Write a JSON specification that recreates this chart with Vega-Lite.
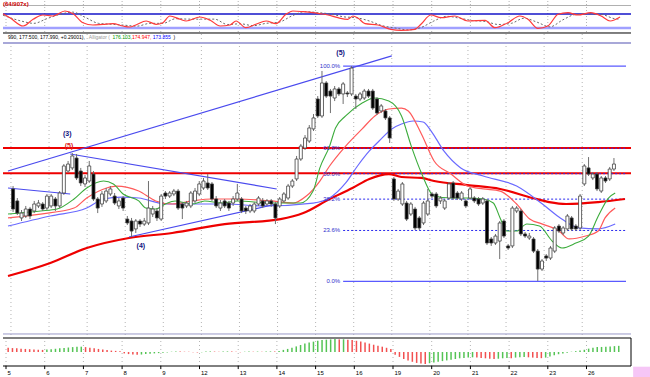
{
"$schema":"https://vega.github.io/schema/vega-lite/v6.json",
"padding":0,"background":"#ffffff","spacing":0,"bounds":"flush",
"resolve":{"scale":{"color":"independent"}},
"config":{"view":{"stroke":null},"font":"Liberation Sans","axis":{"labelFont":"Liberation Sans"}},
"datasets":{
"grid":[{"i":-0.5,"day":"5"},{"i":8.5,"day":"6"},{"i":17.5,"day":"7"},{"i":26.5,"day":"8"},{"i":35.5,"day":"9"},{"i":44.5,"day":"12"},{"i":53.5,"day":"13"},{"i":62.5,"day":"14"},{"i":71.5,"day":"15"},{"i":80.5,"day":"16"},{"i":89.5,"day":"19"},{"i":98.5,"day":"20"},{"i":107.5,"day":"21"},{"i":116.5,"day":"22"},{"i":125.5,"day":"23"},{"i":134.5,"day":"26"}],
"c":[
{"i":0,"o":176.43,"h":176.64,"l":174.78,"c":174.99},{"i":1,"o":175.57,"h":175.78,"l":174.56,"c":174.70},{"i":2,"o":174.35,"h":174.92,"l":174.13,"c":174.70},{"i":3,"o":174.49,"h":175.21,"l":174.35,"c":174.99},{"i":4,"o":174.99,"h":175.14,"l":174.27,"c":174.49},{"i":5,"o":174.85,"h":175.57,"l":174.70,"c":175.35},{"i":6,"o":175.21,"h":175.64,"l":175.06,"c":175.42},{"i":7,"o":175.35,"h":175.49,"l":174.85,"c":174.99},{"i":8,"o":175.06,"h":176.07,"l":174.92,"c":175.92},{"i":9,"o":175.21,"h":176.07,"l":175.06,"c":175.92},
{"i":10,"o":175.71,"h":175.85,"l":174.85,"c":175.21},{"i":11,"o":175.21,"h":176.28,"l":175.06,"c":176.14},{"i":12,"o":176.14,"h":178.22,"l":176.00,"c":178.08},{"i":13,"o":177.72,"h":178.44,"l":177.58,"c":178.22},{"i":14,"o":177.94,"h":179.01,"l":177.79,"c":178.80},{"i":15,"o":178.65,"h":178.94,"l":177.07,"c":177.22},{"i":16,"o":177.72,"h":177.94,"l":176.64,"c":176.86},{"i":17,"o":176.79,"h":177.43,"l":176.57,"c":177.22},{"i":18,"o":177.00,"h":178.44,"l":176.86,"c":178.08},{"i":19,"o":177.50,"h":177.72,"l":175.57,"c":175.71},
{"i":20,"o":175.71,"h":175.85,"l":174.70,"c":175.06},{"i":21,"o":175.35,"h":176.28,"l":175.14,"c":176.07},{"i":22,"o":175.57,"h":176.50,"l":175.42,"c":176.28},{"i":23,"o":176.07,"h":176.64,"l":175.92,"c":176.43},{"i":24,"o":175.92,"h":176.14,"l":175.28,"c":175.42},{"i":25,"o":175.21,"h":175.78,"l":174.99,"c":175.57},{"i":26,"o":175.78,"h":175.92,"l":174.85,"c":175.06},{"i":27,"o":174.27,"h":174.49,"l":173.84,"c":173.99},{"i":28,"o":174.13,"h":174.35,"l":172.98,"c":173.41},{"i":29,"o":173.56,"h":174.27,"l":173.27,"c":174.13},
{"i":30,"o":174.13,"h":174.27,"l":173.70,"c":173.91},{"i":31,"o":173.91,"h":174.35,"l":173.77,"c":174.13},{"i":32,"o":173.99,"h":177.00,"l":173.84,"c":175.06},{"i":33,"o":174.63,"h":175.21,"l":174.42,"c":174.99},{"i":34,"o":174.85,"h":175.06,"l":174.13,"c":174.35},{"i":35,"o":174.27,"h":176.07,"l":174.13,"c":175.92},{"i":36,"o":176.14,"h":176.28,"l":175.71,"c":175.92},{"i":37,"o":175.92,"h":176.28,"l":175.78,"c":176.14},{"i":38,"o":176.07,"h":176.43,"l":175.92,"c":176.28},{"i":39,"o":176.28,"h":176.43,"l":174.92,"c":175.06},
{"i":40,"o":175.35,"h":175.49,"l":174.27,"c":175.06},{"i":41,"o":175.21,"h":175.57,"l":175.06,"c":175.42},{"i":42,"o":175.21,"h":176.28,"l":175.06,"c":176.14},{"i":43,"o":175.57,"h":176.50,"l":175.42,"c":176.28},{"i":44,"o":176.07,"h":177.00,"l":175.92,"c":176.79},{"i":45,"o":176.50,"h":177.22,"l":176.36,"c":177.00},{"i":46,"o":176.86,"h":177.50,"l":176.36,"c":176.50},{"i":47,"o":176.79,"h":176.93,"l":175.57,"c":175.71},{"i":48,"o":175.71,"h":175.92,"l":175.06,"c":175.21},{"i":49,"o":175.06,"h":175.64,"l":174.85,"c":175.42},
{"i":50,"o":175.57,"h":175.71,"l":175.06,"c":175.21},{"i":51,"o":175.42,"h":175.57,"l":174.85,"c":175.06},{"i":52,"o":175.42,"h":175.92,"l":175.21,"c":175.71},{"i":53,"o":175.71,"h":176.79,"l":175.57,"c":176.14},{"i":54,"o":175.71,"h":175.85,"l":174.70,"c":174.85},{"i":55,"o":175.06,"h":175.21,"l":174.63,"c":174.85},{"i":56,"o":174.85,"h":175.35,"l":174.70,"c":175.21},{"i":57,"o":174.85,"h":175.49,"l":174.70,"c":175.35},{"i":58,"o":175.35,"h":175.92,"l":175.21,"c":175.78},{"i":59,"o":175.57,"h":175.78,"l":175.06,"c":175.21},
{"i":60,"o":175.35,"h":175.71,"l":175.21,"c":175.57},{"i":61,"o":175.57,"h":175.71,"l":175.14,"c":175.35},{"i":62,"o":175.35,"h":175.49,"l":173.91,"c":174.35},{"i":63,"o":175.21,"h":175.85,"l":175.06,"c":175.71},{"i":64,"o":175.57,"h":176.21,"l":175.42,"c":176.07},{"i":65,"o":175.78,"h":176.79,"l":175.64,"c":176.64},{"i":66,"o":176.64,"h":177.15,"l":176.50,"c":177.00},{"i":67,"o":177.15,"h":178.80,"l":177.00,"c":178.58},{"i":68,"o":178.58,"h":179.66,"l":178.44,"c":179.51},{"i":69,"o":179.37,"h":180.30,"l":179.23,"c":180.09},
{"i":70,"o":179.87,"h":181.02,"l":179.73,"c":180.81},{"i":71,"o":180.74,"h":181.81,"l":180.59,"c":181.53},{"i":72,"o":182.89,"h":183.10,"l":181.53,"c":181.67},{"i":73,"o":181.67,"h":184.90,"l":181.53,"c":184.04},{"i":74,"o":184.04,"h":184.18,"l":182.96,"c":183.10},{"i":75,"o":183.46,"h":183.61,"l":181.88,"c":183.10},{"i":76,"o":182.96,"h":183.82,"l":182.74,"c":183.61},{"i":77,"o":183.61,"h":183.75,"l":183.10,"c":183.25},{"i":78,"o":183.25,"h":184.11,"l":182.53,"c":183.97},{"i":79,"o":183.32,"h":183.46,"l":183.03,"c":183.25},
{"i":80,"o":183.25,"h":185.26,"l":183.10,"c":185.11},{"i":81,"o":183.10,"h":183.25,"l":182.17,"c":182.89},{"i":82,"o":182.89,"h":183.39,"l":182.74,"c":183.25},{"i":83,"o":182.96,"h":183.61,"l":182.82,"c":183.46},{"i":84,"o":183.46,"h":183.61,"l":182.96,"c":183.10},{"i":85,"o":183.46,"h":183.61,"l":182.10,"c":182.24},{"i":86,"o":182.89,"h":183.03,"l":181.74,"c":181.88},{"i":87,"o":182.03,"h":182.53,"l":181.88,"c":182.39},{"i":88,"o":182.03,"h":182.17,"l":181.38,"c":181.53},{"i":89,"o":181.53,"h":181.67,"l":179.73,"c":180.09},
{"i":90,"o":177.15,"h":177.29,"l":175.57,"c":175.71},{"i":91,"o":175.71,"h":176.43,"l":175.57,"c":176.28},{"i":92,"o":175.35,"h":176.93,"l":175.21,"c":176.79},{"i":93,"o":175.42,"h":175.57,"l":174.13,"c":174.27},{"i":94,"o":174.63,"h":175.49,"l":174.49,"c":175.35},{"i":95,"o":174.99,"h":175.14,"l":173.48,"c":173.63},{"i":96,"o":174.35,"h":174.49,"l":173.48,"c":173.63},{"i":97,"o":173.99,"h":175.57,"l":173.84,"c":175.42},{"i":98,"o":174.63,"h":176.43,"l":174.49,"c":175.57},{"i":99,"o":176.07,"h":176.21,"l":175.78,"c":175.92},
{"i":100,"o":176.07,"h":176.21,"l":175.06,"c":175.21},{"i":101,"o":175.57,"h":175.92,"l":175.35,"c":175.78},{"i":102,"o":175.06,"h":175.71,"l":174.92,"c":175.57},{"i":103,"o":175.78,"h":176.93,"l":175.64,"c":176.79},{"i":104,"o":176.86,"h":177.00,"l":175.64,"c":175.78},{"i":105,"o":176.14,"h":176.28,"l":175.64,"c":175.78},{"i":106,"o":175.71,"h":176.28,"l":175.57,"c":176.14},{"i":107,"o":175.57,"h":175.71,"l":175.06,"c":175.21},{"i":108,"o":175.78,"h":176.57,"l":175.64,"c":176.43},{"i":109,"o":175.78,"h":175.92,"l":175.42,"c":175.57},
{"i":110,"o":175.71,"h":175.85,"l":175.21,"c":175.35},{"i":111,"o":175.42,"h":175.85,"l":175.28,"c":175.71},{"i":112,"o":175.57,"h":175.71,"l":172.41,"c":172.55},{"i":113,"o":172.84,"h":172.98,"l":172.34,"c":172.55},{"i":114,"o":172.55,"h":173.20,"l":172.41,"c":173.05},{"i":115,"o":172.69,"h":174.13,"l":171.40,"c":173.99},{"i":116,"o":174.13,"h":174.27,"l":172.91,"c":173.05},{"i":117,"o":172.34,"h":172.48,"l":172.05,"c":172.19},{"i":118,"o":172.34,"h":175.21,"l":172.19,"c":175.06},{"i":119,"o":174.85,"h":175.21,"l":174.70,"c":175.06},
{"i":120,"o":174.85,"h":174.99,"l":173.05,"c":173.20},{"i":121,"o":173.20,"h":173.34,"l":172.91,"c":173.05},{"i":122,"o":172.91,"h":173.27,"l":172.77,"c":173.05},{"i":123,"o":172.84,"h":172.98,"l":171.83,"c":171.97},{"i":124,"o":171.97,"h":172.12,"l":169.82,"c":170.68},{"i":125,"o":170.68,"h":171.40,"l":170.54,"c":171.26},{"i":126,"o":171.62,"h":171.76,"l":171.26,"c":171.47},{"i":127,"o":171.47,"h":172.34,"l":171.33,"c":172.19},{"i":128,"o":171.97,"h":173.77,"l":171.83,"c":173.63},{"i":129,"o":173.77,"h":173.91,"l":173.27,"c":173.41},
{"i":130,"o":173.27,"h":173.77,"l":173.12,"c":173.63},{"i":131,"o":173.56,"h":174.63,"l":173.41,"c":174.49},{"i":132,"o":174.35,"h":174.49,"l":173.41,"c":173.56},{"i":133,"o":173.77,"h":173.91,"l":173.41,"c":173.56},{"i":134,"o":173.63,"h":176.07,"l":173.48,"c":175.92},{"i":135,"o":176.79,"h":178.22,"l":176.64,"c":178.08},{"i":136,"o":177.94,"h":178.72,"l":177.36,"c":177.50},{"i":137,"o":177.22,"h":177.65,"l":177.07,"c":177.50},{"i":138,"o":177.50,"h":177.65,"l":176.28,"c":176.43},{"i":139,"o":176.28,"h":177.36,"l":176.14,"c":177.22},
{"i":140,"o":177.22,"h":177.36,"l":176.86,"c":177.00},{"i":141,"o":177.15,"h":178.01,"l":177.00,"c":177.86},{"i":142,"o":177.86,"h":178.65,"l":177.72,"c":178.22}],
"ma":[{"i":-1.2,"v":170.18},{"i":8.8,"v":171.12},{"i":17.4,"v":172.19},{"i":27.4,"v":172.91},{"i":37.6,"v":173.27},{"i":50,"v":173.91},{"i":63.2,"v":174.27},{"i":68.6,"v":174.70},{"i":74.8,"v":175.71},{"i":80.2,"v":176.50},{"i":84.2,"v":177.15},{"i":88.8,"v":177.50},{"i":91.8,"v":177.29},{"i":96.5,"v":177.22},{"i":99.5,"v":177.00},{"i":107.4,"v":176.71},{"i":115.1,"v":176.43},{"i":122.8,"v":175.78},{"i":126.7,"v":175.49},{"i":130.7,"v":175.35},{"i":138.3,"v":175.49},{"i":144.6,"v":175.71}],
"jaw":[{"i":-1.2,"v":173.77},{"i":8.8,"v":174.49},{"i":17.4,"v":175.06},{"i":21.4,"v":175.71},{"i":25.6,"v":175.85},{"i":29.7,"v":175.78},{"i":36,"v":175.35},{"i":43,"v":175.35},{"i":50,"v":175.35},{"i":59.3,"v":175.21},{"i":70.9,"v":175.42},{"i":74.8,"v":175.78},{"i":78.6,"v":176.86},{"i":81.4,"v":178.08},{"i":84.2,"v":179.16},{"i":86.5,"v":179.87},{"i":89.5,"v":180.74},{"i":91.8,"v":181.09},{"i":94.6,"v":181.31},{"i":96.9,"v":181.24},{"i":98.8,"v":180.59},{"i":101.8,"v":179.16},{"i":105.8,"v":177.94},{"i":111.1,"v":177.36},{"i":119,"v":176.64},{"i":125.1,"v":175.35},{"i":129,"v":174.42},{"i":133.7,"v":173.63},{"i":138.3,"v":173.56},{"i":142.3,"v":173.91}],
"teeth":[{"i":-1.2,"v":174.35},{"i":6.5,"v":174.63},{"i":14.4,"v":175.06},{"i":17.4,"v":175.78},{"i":22.1,"v":176.50},{"i":24.4,"v":176.64},{"i":29.7,"v":176.28},{"i":33.7,"v":175.57},{"i":37.6,"v":175.35},{"i":42.3,"v":175.57},{"i":46.9,"v":175.71},{"i":53,"v":175.71},{"i":60.9,"v":175.57},{"i":66.2,"v":175.42},{"i":69.3,"v":175.92},{"i":72.5,"v":177.00},{"i":74.8,"v":178.08},{"i":78.6,"v":179.51},{"i":82.5,"v":180.74},{"i":85.5,"v":181.67},{"i":88.8,"v":182.17},{"i":91.8,"v":182.24},{"i":93.4,"v":182.03},{"i":96.5,"v":180.38},{"i":99.5,"v":178.44},{"i":103.5,"v":177.50},{"i":107.4,"v":176.64},{"i":111.1,"v":176.43},{"i":115.1,"v":176.28},{"i":119,"v":175.35},{"i":122.1,"v":174.27},{"i":125.1,"v":173.91},{"i":129,"v":173.41},{"i":131.4,"v":172.84},{"i":135.3,"v":173.05},{"i":138.3,"v":173.41},{"i":139.9,"v":174.35},{"i":142.3,"v":175.06}],
"lips":[{"i":-1.2,"v":174.63},{"i":6.5,"v":174.85},{"i":10.4,"v":174.99},{"i":14.4,"v":175.71},{"i":17.4,"v":176.50},{"i":21.4,"v":177.00},{"i":23.7,"v":176.79},{"i":26,"v":176.07},{"i":29.7,"v":175.57},{"i":31.4,"v":175.06},{"i":33.7,"v":174.99},{"i":36,"v":175.35},{"i":38.3,"v":175.57},{"i":42.3,"v":175.35},{"i":45.3,"v":175.57},{"i":49.3,"v":175.42},{"i":53,"v":175.57},{"i":60.9,"v":175.42},{"i":67.9,"v":175.42},{"i":70.9,"v":176.28},{"i":72.5,"v":177.94},{"i":74.8,"v":179.51},{"i":76.2,"v":180.81},{"i":78.6,"v":181.67},{"i":82.5,"v":182.60},{"i":85.5,"v":182.96},{"i":88.8,"v":182.74},{"i":91.8,"v":181.67},{"i":94.1,"v":179.51},{"i":96.5,"v":177.58},{"i":99.5,"v":175.92},{"i":103.5,"v":175.78},{"i":107.4,"v":175.78},{"i":111.1,"v":175.71},{"i":113.5,"v":175.42},{"i":115.1,"v":174.35},{"i":116.7,"v":173.41},{"i":119,"v":173.41},{"i":121.4,"v":173.91},{"i":124.4,"v":173.77},{"i":127.4,"v":172.69},{"i":129.7,"v":172.19},{"i":133,"v":172.55},{"i":136,"v":173.05},{"i":138.3,"v":174.49},{"i":140.7,"v":175.78},{"i":142.3,"v":176.14}],
"tl":[{"s":1,"i":-1.2,"v":177.72},{"s":1,"i":89.5,"v":185.98},{"s":2,"i":13.5,"v":178.94},{"s":2,"i":62.3,"v":176.43},{"s":3,"i":-1.2,"v":176.50},{"s":3,"i":13.5,"v":176.07},{"s":4,"i":27.4,"v":172.98},{"s":4,"i":62.3,"v":175.35}],
"fib":[{"p":"100.0%","v":185.25,"k":"s"},{"p":"61.8%","v":179.35,"k":"d"},{"p":"50.0%","v":177.525,"k":"d"},{"p":"38.2%","v":175.70,"k":"d"},{"p":"23.6%","v":173.45,"k":"d"},{"p":"0.0%","v":169.80,"k":"s"}],
"hdr":[{"i":-1.2,"t":"990, 177.500, 177.990, +0.29001),","g":"k"},{"i":17.9,"t":"Alligator (","g":"a"},{"i":23.5,"t":"176.103,","g":"l"},{"i":28.1,"t":"174.947,","g":"t"},{"i":33.0,"t":"173.855","g":"j"},{"i":37.9,"t":")","g":"k"}],
"wl":[{"i":12.8,"v":180.37,"t":"(3)","g":"n"},{"i":13.2,"v":179.55,"t":"(5)","g":"r"},{"i":30.2,"v":172.34,"t":"(4)","g":"n"},{"i":77.4,"v":186.19,"t":"(5)","g":"n"}],
"sk":[{"i":-1.2,"v":81.3},{"i":0.4,"v":64.1},{"i":3.5,"v":28.6},{"i":5.8,"v":57.3},{"i":8.1,"v":75.7},{"i":10.4,"v":71.4},{"i":13.2,"v":92.9},{"i":15.1,"v":81.3},{"i":17.4,"v":42.7},{"i":19.7,"v":32.9},{"i":22.1,"v":35.9},{"i":24.4,"v":38.4},{"i":26.7,"v":28.6},{"i":28.3,"v":24.3},{"i":29.7,"v":32.9},{"i":32.1,"v":50},{"i":34.4,"v":35.9},{"i":36,"v":42.7},{"i":37.6,"v":71.4},{"i":40,"v":57.3},{"i":41.4,"v":50},{"i":44.6,"v":67.1},{"i":47,"v":53},{"i":49.3,"v":28.6},{"i":51.6,"v":32.9},{"i":53,"v":50},{"i":55.3,"v":21.3},{"i":57.6,"v":35.9},{"i":60,"v":50},{"i":62.3,"v":38.4},{"i":64.6,"v":78.7},{"i":66.2,"v":92.9},{"i":68.6,"v":89.9},{"i":70.9,"v":85.6},{"i":72.5,"v":81.3},{"i":74.4,"v":75.7},{"i":76.7,"v":64.1},{"i":79,"v":57.3},{"i":80.2,"v":71.4},{"i":81.4,"v":61.6},{"i":83,"v":38.4},{"i":86,"v":32.9},{"i":89,"v":14.4},{"i":91.4,"v":10.1},{"i":94.6,"v":14.4},{"i":96,"v":35.9},{"i":98.3,"v":75.7},{"i":100.7,"v":64.1},{"i":103.9,"v":71.4},{"i":106.9,"v":50},{"i":110.9,"v":53},{"i":113.2,"v":21.3},{"i":116.2,"v":42.7},{"i":119,"v":71.4},{"i":120.9,"v":57.3},{"i":123.2,"v":18.7},{"i":125.5,"v":28.6},{"i":127.9,"v":78.7},{"i":130.2,"v":85.6},{"i":132.5,"v":75.7},{"i":135.5,"v":85.6},{"i":137.9,"v":71.4},{"i":140,"v":50},{"i":142.3,"v":67.1}],
"sd":[{"i":-1.2,"v":75},{"i":3,"v":50},{"i":6,"v":40},{"i":9,"v":60},{"i":12,"v":78},{"i":15,"v":88},{"i":18,"v":65},{"i":21,"v":40},{"i":24,"v":36},{"i":27,"v":32},{"i":30,"v":28},{"i":33,"v":40},{"i":36,"v":40},{"i":39,"v":60},{"i":42,"v":58},{"i":45,"v":58},{"i":48,"v":58},{"i":51,"v":35},{"i":54,"v":38},{"i":57,"v":30},{"i":60,"v":40},{"i":63,"v":45},{"i":66,"v":72},{"i":69,"v":90},{"i":72,"v":86},{"i":75,"v":80},{"i":78,"v":68},{"i":81,"v":64},{"i":84,"v":50},{"i":87,"v":30},{"i":90,"v":20},{"i":93,"v":12},{"i":96,"v":22},{"i":99,"v":50},{"i":102,"v":70},{"i":105,"v":62},{"i":108,"v":52},{"i":111,"v":48},{"i":114,"v":35},{"i":117,"v":40},{"i":120,"v":62},{"i":123,"v":45},{"i":126,"v":25},{"i":129,"v":55},{"i":132,"v":78},{"i":135,"v":80},{"i":138,"v":78},{"i":141,"v":60},{"i":142.3,"v":58}],
"h":[
{"i":0,"m":0.30,"d":"d"},{"i":1,"m":0.28,"d":"d"},{"i":2,"m":0.26,"d":"d"},{"i":3,"m":0.24,"d":"d"},{"i":4,"m":0.22,"d":"d"},{"i":5,"m":0.20,"d":"d"},{"i":6,"m":0.18,"d":"d"},{"i":7,"m":0.16,"d":"d"},{"i":8,"m":0.15,"d":"d"},{"i":9,"m":0.17,"d":"u"},
{"i":10,"m":0.20,"d":"u"},{"i":11,"m":0.23,"d":"u"},{"i":12,"m":0.26,"d":"u"},{"i":13,"m":0.29,"d":"u"},{"i":14,"m":0.32,"d":"u"},{"i":15,"m":0.35,"d":"u"},{"i":16,"m":0.37,"d":"u"},{"i":17,"m":0.38,"d":"u"},{"i":18,"m":0.35,"d":"d"},{"i":19,"m":0.30,"d":"d"},
{"i":20,"m":0.26,"d":"d"},{"i":21,"m":0.22,"d":"d"},{"i":22,"m":0.18,"d":"d"},{"i":23,"m":0.14,"d":"d"},{"i":24,"m":0.10,"d":"d"},{"i":25,"m":0.08,"d":"d"},{"i":26,"m":0.06,"d":"d"},{"i":27,"m":-0.10,"d":"d"},{"i":28,"m":-0.15,"d":"d"},{"i":29,"m":-0.18,"d":"d"},
{"i":30,"m":-0.20,"d":"d"},{"i":31,"m":-0.18,"d":"u"},{"i":32,"m":-0.15,"d":"u"},{"i":33,"m":-0.12,"d":"u"},{"i":34,"m":-0.10,"d":"u"},{"i":35,"m":-0.08,"d":"u"},{"i":36,"m":-0.05,"d":"u"},{"i":37,"m":-0.03,"d":"u"},{"i":38,"m":0.02,"d":"u"},{"i":39,"m":0.04,"d":"u"},
{"i":40,"m":0.03,"d":"d"},{"i":41,"m":0.02,"d":"d"},{"i":42,"m":0.01,"d":"d"},{"i":43,"m":-0.02,"d":"d"},{"i":44,"m":-0.03,"d":"d"},{"i":45,"m":-0.02,"d":"u"},{"i":46,"m":0.03,"d":"u"},{"i":47,"m":0.04,"d":"u"},{"i":48,"m":0.03,"d":"d"},{"i":49,"m":0.02,"d":"d"},
{"i":50,"m":0.03,"d":"u"},{"i":51,"m":0.04,"d":"u"},{"i":52,"m":0.03,"d":"d"},{"i":53,"m":0.02,"d":"d"},{"i":54,"m":-0.02,"d":"d"},{"i":55,"m":0.02,"d":"u"},{"i":56,"m":0.03,"d":"u"},{"i":57,"m":0.02,"d":"d"},{"i":58,"m":0.03,"d":"u"},{"i":59,"m":0.02,"d":"d"},
{"i":60,"m":0.03,"d":"u"},{"i":61,"m":0.04,"d":"u"},{"i":62,"m":0.03,"d":"d"},{"i":63,"m":0.08,"d":"u"},{"i":64,"m":0.15,"d":"u"},{"i":65,"m":0.22,"d":"u"},{"i":66,"m":0.30,"d":"u"},{"i":67,"m":0.40,"d":"u"},{"i":68,"m":0.50,"d":"u"},{"i":69,"m":0.60,"d":"u"},
{"i":70,"m":0.68,"d":"u"},{"i":71,"m":0.74,"d":"u"},{"i":72,"m":0.80,"d":"u"},{"i":73,"m":0.85,"d":"u"},{"i":74,"m":0.88,"d":"u"},{"i":75,"m":0.90,"d":"u"},{"i":76,"m":0.92,"d":"u"},{"i":77,"m":0.90,"d":"d"},{"i":78,"m":0.91,"d":"u"},{"i":79,"m":0.88,"d":"d"},
{"i":80,"m":0.85,"d":"d"},{"i":81,"m":0.80,"d":"d"},{"i":82,"m":0.75,"d":"d"},{"i":83,"m":0.68,"d":"d"},{"i":84,"m":0.60,"d":"d"},{"i":85,"m":0.52,"d":"d"},{"i":86,"m":0.45,"d":"d"},{"i":87,"m":0.38,"d":"d"},{"i":88,"m":0.30,"d":"d"},{"i":89,"m":0.22,"d":"d"},
{"i":90,"m":-0.20,"d":"d"},{"i":91,"m":-0.35,"d":"d"},{"i":92,"m":-0.50,"d":"d"},{"i":93,"m":-0.60,"d":"d"},{"i":94,"m":-0.70,"d":"d"},{"i":95,"m":-0.78,"d":"d"},{"i":96,"m":-0.82,"d":"d"},{"i":97,"m":-0.85,"d":"d"},{"i":98,"m":-0.80,"d":"u"},{"i":99,"m":-0.75,"d":"u"},
{"i":100,"m":-0.70,"d":"u"},{"i":101,"m":-0.65,"d":"u"},{"i":102,"m":-0.60,"d":"u"},{"i":103,"m":-0.55,"d":"u"},{"i":104,"m":-0.50,"d":"u"},{"i":105,"m":-0.45,"d":"u"},{"i":106,"m":-0.42,"d":"u"},{"i":107,"m":-0.40,"d":"u"},{"i":108,"m":-0.38,"d":"u"},{"i":109,"m":-0.40,"d":"d"},
{"i":110,"m":-0.42,"d":"d"},{"i":111,"m":-0.45,"d":"d"},{"i":112,"m":-0.48,"d":"d"},{"i":113,"m":-0.50,"d":"d"},{"i":114,"m":-0.48,"d":"u"},{"i":115,"m":-0.45,"d":"u"},{"i":116,"m":-0.42,"d":"u"},{"i":117,"m":-0.44,"d":"d"},{"i":118,"m":-0.40,"d":"u"},{"i":119,"m":-0.38,"d":"u"},
{"i":120,"m":-0.36,"d":"u"},{"i":121,"m":-0.38,"d":"d"},{"i":122,"m":-0.40,"d":"d"},{"i":123,"m":-0.42,"d":"d"},{"i":124,"m":-0.44,"d":"d"},{"i":125,"m":-0.40,"d":"u"},{"i":126,"m":-0.32,"d":"u"},{"i":127,"m":-0.24,"d":"u"},{"i":128,"m":-0.16,"d":"u"},{"i":129,"m":-0.10,"d":"u"},
{"i":130,"m":-0.05,"d":"u"},{"i":131,"m":0.02,"d":"u"},{"i":132,"m":0.06,"d":"u"},{"i":133,"m":0.10,"d":"u"},{"i":134,"m":0.16,"d":"u"},{"i":135,"m":0.24,"d":"u"},{"i":136,"m":0.30,"d":"u"},{"i":137,"m":0.35,"d":"u"},{"i":138,"m":0.36,"d":"u"},{"i":139,"m":0.38,"d":"u"},
{"i":140,"m":0.40,"d":"u"},{"i":141,"m":0.42,"d":"u"},{"i":142,"m":0.44,"d":"u"}]
},
"vconcat":[
{"width":628,"height":33,
"layer":[
{"data":{"name":"grid"},"mark":{"type":"rule","color":"#b4b4b4","strokeDash":[1,2],"strokeWidth":1},"encoding":{"x":{"field":"i","type":"quantitative","scale":{"domain":[-1.2,144.85],"nice":false,"zero":false},"axis":null}}},
{"data":{"values":[{"v":80}]},"mark":{"type":"rule","color":"#1414c8","strokeWidth":1.5},"encoding":{"y":{"field":"v","type":"quantitative","scale":{"domain":[-5.72,135.71],"nice":false,"zero":false},"axis":{"orient":"right","values":[50],"labelFontSize":6,"tickSize":3,"labelPadding":2,"domainColor":"#000","tickColor":"#000","labelColor":"#000","title":null,"grid":false}}}},
{"data":{"values":[{"v":20}]},"mark":{"type":"rule","color":"#a0a0ff","strokeWidth":2.5},"encoding":{"y":{"field":"v","type":"quantitative","scale":{"domain":[-5.72,135.71],"nice":false,"zero":false},"axis":null}}},
{"data":{"values":[{"v":116.4}]},"mark":{"type":"rule","color":"#b0b0b0","strokeWidth":1},"encoding":{"y":{"field":"v","type":"quantitative","scale":{"domain":[-5.72,135.71],"nice":false,"zero":false},"axis":null}}},
{"data":{"values":[{"v":-1.43}]},"mark":{"type":"rule","color":"#000000","strokeWidth":1},"encoding":{"y":{"field":"v","type":"quantitative","scale":{"domain":[-5.72,135.71],"nice":false,"zero":false},"axis":null}}},
{"data":{"name":"sd"},"mark":{"type":"line","color":"#6a6a6a","strokeDash":[2,2],"strokeWidth":1,"interpolate":"monotone"},"encoding":{"x":{"field":"i","type":"quantitative","scale":{"domain":[-1.2,144.85],"nice":false,"zero":false},"axis":null},"y":{"field":"v","type":"quantitative","scale":{"domain":[-5.72,135.71],"nice":false,"zero":false},"axis":null}}},
{"data":{"name":"sk"},"mark":{"type":"line","color":"#ff3a3a","strokeWidth":1.2,"interpolate":"monotone"},"encoding":{"x":{"field":"i","type":"quantitative","scale":{"domain":[-1.2,144.85],"nice":false,"zero":false},"axis":null},"y":{"field":"v","type":"quantitative","scale":{"domain":[-5.72,135.71],"nice":false,"zero":false},"axis":null}}},
{"data":{"values":[{"i":-1.2,"v":123,"t":"(64/907x)"}]},"mark":{"type":"text","align":"left","baseline":"middle","color":"#cc0000","fontSize":6,"fontWeight":"bold"},"encoding":{"x":{"field":"i","type":"quantitative","scale":{"domain":[-1.2,144.85],"nice":false,"zero":false},"axis":null},"y":{"field":"v","type":"quantitative","scale":{"domain":[-5.72,135.71],"nice":false,"zero":false},"axis":null},"text":{"field":"t"}}}
]},
{"width":628,"height":304,"resolve":{"scale":{"color":"independent"}},
"layer":[
{"data":{"name":"grid"},"mark":{"type":"rule","color":"#b4b4b4","strokeDash":[1,3],"strokeWidth":1},"encoding":{"x":{"field":"i","type":"quantitative","scale":{"domain":[-1.2,144.85],"nice":false,"zero":false},"axis":null}}},
{"data":{"values":[{"v":186.91}]},"mark":{"type":"rule","color":"#a8a8d8","strokeWidth":2},"encoding":{"y":{"field":"v","type":"quantitative","scale":{"domain":[165.731,187.555],"nice":false,"zero":false},"axis":{"orient":"right","values":[167,167.5,168,168.5,169,169.5,170,170.5,171,171.5,172,172.5,173,173.5,174,174.5,175,175.5,176,176.5,177,177.5,178,178.5,179,179.5,180,180.5,181,181.5,182,182.5,183,183.5,184,184.5,185,185.5,186,186.5],"format":".1f","labelFontSize":6,"tickSize":3,"labelPadding":2,"domainColor":"#000","tickColor":"#000","labelColor":"#000","title":null,"grid":false,"labelOverlap":false}}}},
{"data":{"values":[{"v":166.02}]},"mark":{"type":"rule","color":"#9a9ac8","strokeWidth":1},"encoding":{"y":{"field":"v","type":"quantitative","scale":{"domain":[165.731,187.555],"nice":false,"zero":false},"axis":null}}},
{"data":{"values":[{"v":179.37},{"v":177.55}]},"mark":{"type":"rule","color":"#ee0000","strokeWidth":2},"encoding":{"y":{"field":"v","type":"quantitative","scale":{"domain":[165.731,187.555],"nice":false,"zero":false},"axis":null}}},
{"data":{"name":"fib"},"transform":[{"filter":"datum.k == 's'"}],"mark":{"type":"rule","color":"#5a5aff","strokeWidth":1.3},"encoding":{"x":{"datum":78,"type":"quantitative","scale":{"domain":[-1.2,144.85],"nice":false,"zero":false},"axis":null},"x2":{"datum":144.85},"y":{"field":"v","type":"quantitative","scale":{"domain":[165.731,187.555],"nice":false,"zero":false},"axis":null}}},
{"data":{"name":"fib"},"transform":[{"filter":"datum.k == 'd'"}],"mark":{"type":"rule","color":"#2a2aee","strokeWidth":1,"strokeDash":[2,2]},"encoding":{"x":{"datum":78,"type":"quantitative","scale":{"domain":[-1.2,144.85],"nice":false,"zero":false},"axis":null},"x2":{"datum":144.85},"y":{"field":"v","type":"quantitative","scale":{"domain":[165.731,187.555],"nice":false,"zero":false},"axis":null}}},
{"data":{"name":"ma"},"mark":{"type":"line","color":"#ee0000","strokeWidth":2.2,"interpolate":"monotone"},"encoding":{"x":{"field":"i","type":"quantitative","scale":{"domain":[-1.2,144.85],"nice":false,"zero":false},"axis":null},"y":{"field":"v","type":"quantitative","scale":{"domain":[165.731,187.555],"nice":false,"zero":false},"axis":null}}},
{"data":{"name":"jaw"},"mark":{"type":"line","color":"#6a6aff","strokeWidth":1.2,"interpolate":"monotone"},"encoding":{"x":{"field":"i","type":"quantitative","scale":{"domain":[-1.2,144.85],"nice":false,"zero":false},"axis":null},"y":{"field":"v","type":"quantitative","scale":{"domain":[165.731,187.555],"nice":false,"zero":false},"axis":null}}},
{"data":{"name":"teeth"},"mark":{"type":"line","color":"#ff5a5a","strokeWidth":1.2,"interpolate":"monotone"},"encoding":{"x":{"field":"i","type":"quantitative","scale":{"domain":[-1.2,144.85],"nice":false,"zero":false},"axis":null},"y":{"field":"v","type":"quantitative","scale":{"domain":[165.731,187.555],"nice":false,"zero":false},"axis":null}}},
{"data":{"name":"lips"},"mark":{"type":"line","color":"#3cac3c","strokeWidth":1.1,"interpolate":"monotone"},"encoding":{"x":{"field":"i","type":"quantitative","scale":{"domain":[-1.2,144.85],"nice":false,"zero":false},"axis":null},"y":{"field":"v","type":"quantitative","scale":{"domain":[165.731,187.555],"nice":false,"zero":false},"axis":null}}},
{"data":{"name":"tl"},"mark":{"type":"line","color":"#4a4aee","strokeWidth":1.2},"encoding":{"x":{"field":"i","type":"quantitative","scale":{"domain":[-1.2,144.85],"nice":false,"zero":false},"axis":null},"y":{"field":"v","type":"quantitative","scale":{"domain":[165.731,187.555],"nice":false,"zero":false},"axis":null},"detail":{"field":"s","type":"nominal"}}},
{"data":{"name":"c"},"mark":{"type":"rule","color":"#707070","strokeWidth":1},"encoding":{"x":{"field":"i","type":"quantitative","scale":{"domain":[-1.2,144.85],"nice":false,"zero":false},"axis":null},"y":{"field":"l","type":"quantitative","scale":{"domain":[165.731,187.555],"nice":false,"zero":false},"axis":null},"y2":{"field":"h"}}},
{"data":{"name":"c"},"mark":{"type":"bar","width":3,"stroke":"#404040","strokeWidth":0.8},"encoding":{"x":{"field":"i","type":"quantitative","scale":{"domain":[-1.2,144.85],"nice":false,"zero":false},"axis":null},"y":{"field":"o","type":"quantitative","scale":{"domain":[165.731,187.555],"nice":false,"zero":false},"axis":null},"y2":{"field":"c"},"fill":{"condition":{"test":"datum.c >= datum.o","value":"#ffffff"},"value":"#000000"}}},
{"data":{"name":"fib"},"mark":{"type":"text","align":"right","baseline":"middle","color":"#3030cc","fontSize":6},"encoding":{"x":{"datum":77.3,"type":"quantitative","scale":{"domain":[-1.2,144.85],"nice":false,"zero":false},"axis":null},"y":{"field":"v","type":"quantitative","scale":{"domain":[165.731,187.555],"nice":false,"zero":false},"axis":null},"text":{"field":"p"}}},
{"data":{"name":"wl"},"mark":{"type":"text","align":"center","baseline":"middle","fontSize":7,"fontWeight":"bold"},"encoding":{"x":{"field":"i","type":"quantitative","scale":{"domain":[-1.2,144.85],"nice":false,"zero":false},"axis":null},"y":{"field":"v","type":"quantitative","scale":{"domain":[165.731,187.555],"nice":false,"zero":false},"axis":null},"text":{"field":"t"},"color":{"field":"g","type":"nominal","scale":{"domain":["n","r"],"range":["#101080","#dd2222"]},"legend":null}}},
{"data":{"name":"hdr"},"mark":{"type":"text","align":"left","baseline":"middle","fontSize":5},"encoding":{"x":{"field":"i","type":"quantitative","scale":{"domain":[-1.2,144.85],"nice":false,"zero":false},"axis":null},"y":{"datum":187.375,"type":"quantitative","scale":{"domain":[165.731,187.555],"nice":false,"zero":false},"axis":null},"text":{"field":"t"},"fill":{"field":"g","type":"nominal","scale":{"domain":["k","a","l","t","j"],"range":["#000000","#9a9a9a","#009900","#ff0000","#0000ff"]},"legend":null}}}
]},
{"width":628,"height":40,
"layer":[
{"data":{"name":"grid"},"mark":{"type":"rule","color":"#b4b4b4","strokeDash":[1,3],"strokeWidth":1},"encoding":{"x":{"field":"i","type":"quantitative","scale":{"domain":[-1.2,144.85],"nice":false,"zero":false},"axis":null},"y":{"datum":-1,"type":"quantitative","scale":{"domain":[-1.857,1],"nice":false,"zero":false},"axis":null},"y2":{"datum":1}}},
{"data":{"values":[{"v":1},{"v":-1}]},"mark":{"type":"rule","color":"#000000","strokeWidth":1},"encoding":{"y":{"field":"v","type":"quantitative","scale":{"domain":[-1.857,1],"nice":false,"zero":false},"axis":null}}},
{"data":{"name":"h"},"mark":{"type":"rule","strokeWidth":1.5},"encoding":{"x":{"field":"i","type":"quantitative","scale":{"domain":[-1.2,144.85],"nice":false,"zero":false},"axis":null},"y":{"field":"m","type":"quantitative","scale":{"domain":[-1.857,1],"nice":false,"zero":false},"axis":{"orient":"right","values":[0],"labelFontSize":6,"tickSize":3,"labelPadding":2,"domain":false,"tickColor":"#000","labelColor":"#000","title":null,"grid":false}},"y2":{"datum":0},"color":{"field":"d","type":"nominal","scale":{"domain":["u","d"],"range":["#55c455","#f25050"]},"legend":null}}},
{"data":{"values":[{"a":1,"b":-1}]},"mark":{"type":"rule","color":"#000000","strokeWidth":1},"encoding":{"x":{"datum":144.85,"type":"quantitative","scale":{"domain":[-1.2,144.85],"nice":false,"zero":false},"axis":null},"y":{"field":"a","type":"quantitative","scale":{"domain":[-1.857,1],"nice":false,"zero":false},"axis":null},"y2":{"field":"b"}}},
{"data":{"name":"grid"},"mark":{"type":"rule","color":"#000000","strokeWidth":1},"encoding":{"x":{"field":"i","type":"quantitative","scale":{"domain":[-1.2,144.85],"nice":false,"zero":false},"axis":null},"y":{"datum":-1,"type":"quantitative","scale":{"domain":[-1.857,1],"nice":false,"zero":false},"axis":null},"y2":{"datum":-1.22}}},
{"data":{"name":"grid"},"mark":{"type":"text","align":"left","baseline":"middle","fontSize":6,"color":"#000000","dx":1.5},"encoding":{"x":{"field":"i","type":"quantitative","scale":{"domain":[-1.2,144.85],"nice":false,"zero":false},"axis":null},"y":{"datum":-1.5,"type":"quantitative","scale":{"domain":[-1.857,1],"nice":false,"zero":false},"axis":null},"text":{"field":"day"}}},
{"data":{"values":[{"x1":145.35,"x2":149.9,"y1":-1.05,"y2":-1.857}]},"mark":{"type":"rect","color":"#f6c6f6","clip":false},"encoding":{"x":{"field":"x1","type":"quantitative","scale":{"domain":[-1.2,144.85],"nice":false,"zero":false},"axis":null},"x2":{"field":"x2"},"y":{"field":"y1","type":"quantitative","scale":{"domain":[-1.857,1],"nice":false,"zero":false},"axis":null},"y2":{"field":"y2"}}}
]}
]
}
